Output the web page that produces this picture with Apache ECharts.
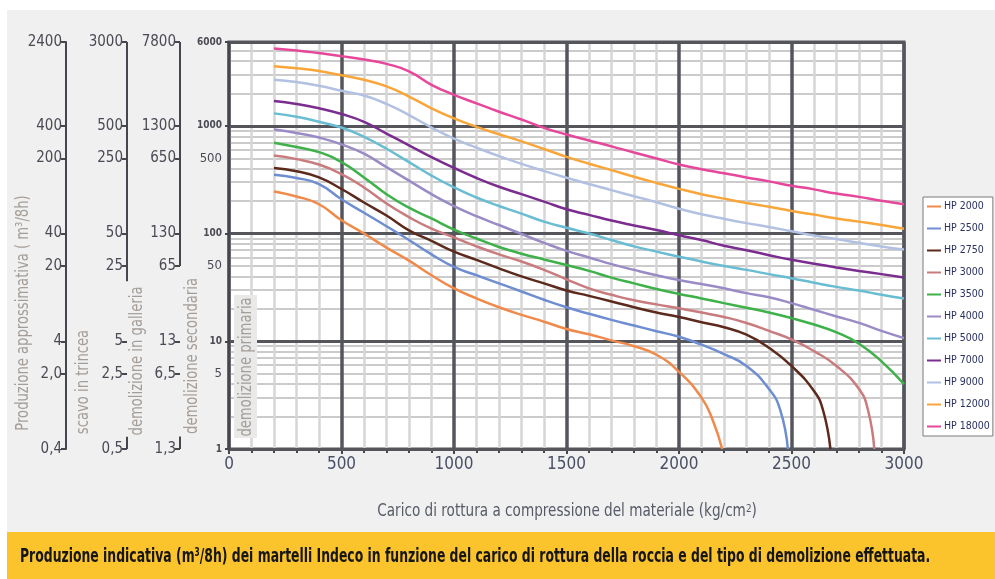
<!DOCTYPE html>
<html>
<head>
<meta charset="utf-8">
<title>Produzione indicativa martelli Indeco</title>
<script src="https://cdn.jsdelivr.net/npm/echarts@6/dist/echarts.min.js"></script>
<style>
  html, body { margin: 0; padding: 0; background: #fff; }
  #chart {
    width: 995px;
    height: 579px;
    background:
      linear-gradient(#fff, #fff) 0 0 / 7px 100% no-repeat,
      linear-gradient(#fff, #fff) 0 0 / 100% 10px no-repeat,
      #f0f0f0;
  }
</style>
</head>
<body>
<div id="chart"></div>
<script>
const FONT = "'DejaVu Sans Condensed', 'Liberation Sans Narrow', sans-serif";

// carico di rottura (kg/cm2)
const loadX = [200, 300, 400, 500, 600, 700, 800, 900, 1000, 1100, 1200, 1300, 1400, 1500,
  1600, 1700, 1800, 1900, 2000, 2100, 2200, 2300, 2400, 2500, 2600, 2700, 2800, 2900, 3000];

// produzione (scala demolizione secondaria), one value per loadX until the curve ends
const hp2000 = [246, 221, 187, 133, 100, 74, 56, 41, 31, 25, 20.7, 17.6, 15.2, 13, 11.6, 10.2, 9.0, 7.5, 5.2, 3.0];
const hp2500 = [352, 328, 288, 208, 156, 117, 87, 64, 49, 41, 34.5, 29, 24.3, 20.7, 18, 15.8, 14, 12.4, 11, 9.3, 7.6, 5.9, 3.6];
const hp2750 = [406, 378, 332, 259, 194, 147, 107, 85.5, 68, 57, 47.5, 40, 34.5, 29.6, 26.4, 23.4, 20.7, 18.5, 16.8, 15, 13.5, 11.5, 8.7, 5.9, 3.45];
const hp3000 = [531, 491, 437, 357, 268, 190, 142, 111, 92, 76, 64, 55, 46, 37.6, 31, 27, 24, 22, 20.3, 18.5, 16.8, 14.8, 12.5, 10.4, 8.1, 5.9, 3.6];
const hp3500 = [698, 635, 570, 460, 332, 232, 174, 138, 109, 90, 75, 65, 57.5, 51, 45, 39, 34.5, 30.6, 27.5, 25, 22.6, 20.5, 18.5, 16.4, 14.3, 12.1, 9.5, 6.5, 4.0];
const hp4000 = [924, 859, 778, 673, 551, 413, 310, 232, 180, 145, 120, 99, 82, 69, 60, 52, 46, 41, 37, 34, 31, 28, 25.6, 22.6, 19.6, 17, 14.8, 12.5, 10.7];
const hp5000 = [1305, 1215, 1090, 964, 788, 613, 460, 345, 268, 216, 180, 153, 129, 113, 100, 87, 76, 68, 61, 55, 50, 46, 42, 38.5, 35, 32, 29.6, 27, 25];
const hp7000 = [1703, 1596, 1454, 1286, 1090, 847, 659, 512, 406, 328, 272, 232, 198, 168, 149, 132, 119, 108, 96.5, 87, 77, 70, 63, 57, 52.5, 48.5, 45, 42, 39];
const hp9000 = [2680, 2547, 2353, 2113, 1910, 1597, 1259, 964, 760, 627, 523, 443, 381, 330, 288, 253, 222, 195, 170, 151, 137, 125, 115, 105, 96, 89, 82, 76, 71];
const hp12000 = [3573, 3420, 3228, 2943, 2680, 2321, 1871, 1454, 1172, 979, 835, 718, 610, 515, 445, 388, 337, 295, 260, 232, 211, 192, 177, 162, 150, 138, 129, 120, 111];
const hp18000 = [5234, 5010, 4732, 4436, 4130, 3760, 3206, 2404, 1939, 1618, 1352, 1146, 958, 830, 730, 645, 566, 498, 437, 396, 363, 332, 305, 278, 257, 235, 219, 202, 187];

// last points where the smaller hammers drop to the bottom of the scale
const tail2000 = [[2150, 1.85], [2192, 1]];
const tail2500 = [[2450, 2.3], [2484, 1]];
const tail2750 = [[2640, 2.3], [2673, 1]];
const tail3000 = [[2840, 2.3], [2868, 1]];

const hpNames = ['HP 2000', 'HP 2500', 'HP 2750', 'HP 3000', 'HP 3500', 'HP 4000',
  'HP 5000', 'HP 7000', 'HP 9000', 'HP 12000', 'HP 18000'];
const hpColors = ['#f08a4b', '#6e8ed1', '#5b2a1c', '#c97b7e', '#3fb14a', '#9a8bc6',
  '#69bdd3', '#7b2c8f', '#b2c1e2', '#f8a53a', '#e7479b'];
const hpValues = [hp2000, hp2500, hp2750, hp3000, hp3500, hp4000, hp5000, hp7000, hp9000, hp12000, hp18000];
const hpTails = [tail2000, tail2500, tail2750, tail3000, [], [], [], [], [], [], []];

// tick labels of the four vertical scales
const mainTicks = [1, 5, 10, 50, 100, 500, 1000, 6000];
const mainLabels = ['{s|1}', '{m|5}', '{s|10}', '{m|50}', '{s|100}', '{m|500}', '{s|1000}', '{s|6000}'];
const prodTicks = [0.4, 2, 4, 20, 40, 200, 400, 2400];
const prodLabels = ['0,4', '2,0', '4', '20', '40', '200', '400', '2400'];
const scavoTicks = [0.5, 2.5, 5, 25, 50, 250, 500, 3000];
const scavoLabels = ['0,5', '2,5', '5', '25', '50', '250', '500', '3000'];
const galleriaTicks = [1.3, 6.5, 13, 65, 130, 650, 1300, 7800];
const galleriaLabels = ['1,3', '6,5', '13', '65', '130', '650', '1300', '7800'];
const minorGrid = [2, 3, 4, 5, 6, 7, 8, 9, 20, 30, 40, 50, 60, 70, 80, 90,
  200, 300, 400, 500, 600, 700, 800, 900, 2000, 3000, 4000, 5000];

// drawn pieces of the broken axis lines (scale values)
const scavoLine = [[3000, 18], [0.5, 0.65]];
const galleriaLine = [[7800, 65], [1.3, 1.7]];

const GRID_LEFT = 229;
const AXIS_DARK = '#46464e';

const labelFor = (ticks, labels) => v => {
  const i = ticks.findIndex(t => Math.abs(t - v) <= t * 1e-6);
  return i < 0 ? '' : labels[i];
};

const sideAxis = (min, max, offset, ticks, labels, showLine) => ({
  type: 'log',
  logBase: 10,
  min: min,
  max: max,
  position: 'left',
  offset: offset,
  z: 3,
  axisLine: { show: showLine, lineStyle: { color: AXIS_DARK, width: 2 } },
  axisTick: { show: true, length: 5, customValues: ticks, lineStyle: { color: AXIS_DARK, width: 2 } },
  axisLabel: {
    customValues: ticks,
    formatter: labelFor(ticks, labels),
    color: '#4a4a55',
    fontFamily: FONT,
    fontSize: 15,
    margin: 4
  },
  splitLine: { show: false }
});

const chart = echarts.init(document.getElementById('chart'), null, { renderer: 'canvas' });

const series = hpNames.map((name, k) => {
  const pts = hpValues[k].map((v, i) => [loadX[i], v]).concat(hpTails[k]);
  return {
    name: name,
    type: 'line',
    data: pts,
    yAxisIndex: 0,
    smooth: 0.5,
    symbol: 'none',
    z: 4,
    lineStyle: { color: hpColors[k], width: 2.5 },
    itemStyle: { color: hpColors[k] }
  };
});

chart.setOption({
  animation: false,
  grid: {
    left: GRID_LEFT,
    right: 91,
    top: 42,
    bottom: 130,
    show: true,
    backgroundColor: '#ffffff',
    borderColor: '#55555c',
    borderWidth: 3
  },
  legend: {
    data: hpNames,
    orient: 'vertical',
    left: 923,
    top: 197,
    itemWidth: 14,
    itemHeight: 12,
    itemGap: 11,
    padding: [4, 3, 4, 3],
    backgroundColor: '#ffffff',
    borderColor: '#7a7a7a',
    borderWidth: 1,
    itemStyle: { opacity: 0 },
    lineStyle: { width: 2 },
    textStyle: { fontFamily: FONT, fontSize: 10.5, color: '#2a3162', padding: [0, 0, 0, -2] }
  },
  xAxis: {
    type: 'value',
    min: 0,
    max: 3000,
    interval: 500,
    z: 2,
    axisLine: { show: true, lineStyle: { color: AXIS_DARK, width: 2 } },
    axisTick: { show: true, length: 5, lineStyle: { color: AXIS_DARK, width: 2 } },
    minorTick: { show: true, splitNumber: 5, length: 4, lineStyle: { color: AXIS_DARK, width: 2 } },
    axisLabel: { color: '#4a4f66', fontFamily: FONT, fontSize: 17, margin: 7, formatter: v => String(v) },
    splitLine: { show: true, lineStyle: { color: '#55555c', width: 3.5 } },
    minorSplitLine: { show: true, lineStyle: { color: '#d6d6d6', width: 2.5 } }
  },
  yAxis: [
    {
      type: 'log',
      logBase: 10,
      min: 1,
      max: 6000,
      position: 'left',
      z: 3,
      axisLine: { show: true, lineStyle: { color: AXIS_DARK, width: 2 } },
      axisTick: { show: true, length: 4, lineStyle: { color: AXIS_DARK, width: 2 } },
      axisLabel: {
        customValues: mainTicks,
        formatter: labelFor(mainTicks, mainLabels),
        color: '#4a4a55',
        fontFamily: FONT,
        margin: 7,
        rich: {
          s: { fontFamily: FONT, fontWeight: 'bold', fontSize: 10, color: '#4a4a55' },
          m: { fontFamily: FONT, fontSize: 13, color: '#4a4a55' }
        }
      },
      splitLine: { show: true, lineStyle: { color: '#55555c', width: 3 } }
    },
    sideAxis(0.4, 2400, 163, prodTicks, prodLabels, true),
    sideAxis(0.5, 3000, 102, scavoTicks, scavoLabels, false),
    sideAxis(1.3, 7800, 49, galleriaTicks, galleriaLabels, false),
    {
      // thin grid lines inside each decade
      type: 'log',
      logBase: 10,
      min: 1,
      max: 6000,
      position: 'left',
      z: 1,
      axisLine: { show: false },
      axisTick: { show: false, customValues: minorGrid },
      axisLabel: { show: false },
      splitLine: { show: true, lineStyle: { color: '#cbcbcb', width: 2 } }
    }
  ],
  series: series
});

// texts and decorations around the plot
const sideTitle = (text, x, y) => ({
  type: 'text',
  x: x,
  y: y,
  rotation: Math.PI / 2,
  scaleX: 0.86,
  style: {
    text: text,
    fill: '#a59e98',
    font: '17px ' + FONT,
    align: 'center',
    verticalAlign: 'middle'
  }
});

const axisSegments = (axisIndex, offset, pieces) => pieces.map(p => {
  const y1 = chart.convertToPixel({ yAxisIndex: axisIndex }, p[0]);
  const y2 = chart.convertToPixel({ yAxisIndex: axisIndex }, p[1]);
  const x = GRID_LEFT - offset;
  return {
    type: 'line',
    shape: { x1: x, y1: y1, x2: x, y2: y2 },
    style: { stroke: AXIS_DARK, lineWidth: 2 },
    z: 5
  };
});

chart.setOption({
  graphic: [
    {
      type: 'rect',
      shape: { x: 7, y: 532, width: 988, height: 47 },
      style: { fill: '#fcc42c' }
    },
    {
      type: 'text',
      x: 20,
      y: 557,
      scaleX: 0.69,
      style: {
        text: '{b|Produzione indicativa (m}{s|3}{b|/8h) dei martelli Indeco in funzione del carico di rottura della roccia e del tipo di demolizione effettuata.}',
        verticalAlign: 'middle',
        rich: {
          b: { fill: '#161616', fontFamily: FONT, fontWeight: 'bold', fontSize: 20 },
          s: { fill: '#161616', fontFamily: FONT, fontWeight: 'bold', fontSize: 12, verticalAlign: 'top' }
        }
      }
    },
    {
      type: 'text',
      x: 567,
      y: 512,
      scaleX: 0.89,
      style: {
        text: '{a|Carico di rottura a compressione del materiale (kg/cm}{s|2}{a|)}',
        align: 'center',
        verticalAlign: 'middle',
        rich: {
          a: { fill: '#555a66', fontFamily: FONT, fontSize: 17 },
          s: { fill: '#555a66', fontFamily: FONT, fontSize: 11, verticalAlign: 'top' }
        }
      }
    },
    sideTitle('Produzione approssimativa ( m\u00b3/8h)', 24, 313),
    sideTitle('scavo in trincea', 84, 382),
    sideTitle('demolizione in galleria', 138, 361),
    sideTitle('demolizione secondaria', 193, 356),
    {
      type: 'rect',
      shape: { x: 234, y: 295, width: 23, height: 143 },
      style: { fill: '#e9e9e9' },
      z: 5
    },
    Object.assign(sideTitle('demolizione primaria', 247, 367), { z: 6 })
  ].concat(axisSegments(2, 102, scavoLine), axisSegments(3, 49, galleriaLine))
});
</script>
</body>
</html>
